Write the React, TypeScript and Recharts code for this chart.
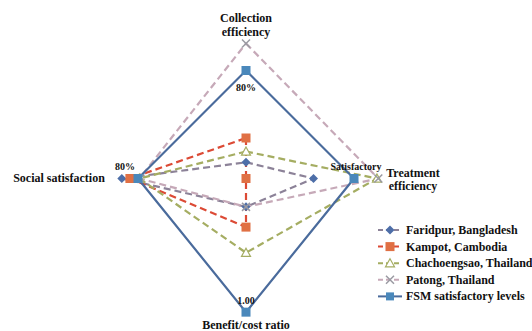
import React from 'react';
import { RadarChart, Radar, PolarAngleAxis, PolarRadiusAxis, Legend } from 'recharts';

const categories = ['Collection efficiency', 'Treatment efficiency', 'Benefit/cost ratio', 'Social satisfaction'];
const faridpur = [12, 50, 21, 92];
const kampot = [30, 0, 36, 86];
const chachoengsao = [20, 97, 55, 79];
const patong = [100, 98, 21, 79];
const fsm = [80, 80, 99, 80];
const fsmNotes = ['80%', 'Satisfactory', '1.00', '80%'];

const seriesNames = [
  'Faridpur, Bangladesh',
  'Kampot, Cambodia',
  'Chachoengsao, Thailand',
  'Patong, Thailand',
  'FSM satisfactory levels',
];

const data = categories.map((c, i) => ({
  axis: c,
  faridpur: faridpur[i],
  kampot: kampot[i],
  chachoengsao: chachoengsao[i],
  patong: patong[i],
  fsm: fsm[i],
}));

const FONT = "'Liberation Serif', 'Times New Roman', 'DejaVu Serif', serif";
const textStyle = { fontFamily: FONT, fontWeight: 700 };

const C = {
  faridLine: '#8c8298',
  faridDot: '#4d6ea8',
  kampLine: '#dc4a35',
  kampDot: '#e07044',
  chachLine: '#a5ad62',
  patLine: '#c6a9b8',
  patDot: '#9a9aa2',
  fsmLine: '#4a6b9c',
  fsmDot: '#4a88bb',
};

function Diamond({ cx, cy, color }: any) {
  const s = 4.5;
  return <path d={`M${cx},${cy - s}L${cx + s},${cy}L${cx},${cy + s}L${cx - s},${cy}Z`} fill={color} />;
}
function Square({ cx, cy, color, s = 4.5 }: any) {
  return <rect x={cx - s} y={cy - s} width={2 * s} height={2 * s} fill={color} />;
}
function Triangle({ cx, cy, color }: any) {
  const s = 4.5;
  return <path d={`M${cx},${cy - s}L${cx + s},${cy + s * 0.8}L${cx - s},${cy + s * 0.8}Z`} fill="#fff" stroke={color} strokeWidth={1.2} />;
}
function Cross({ cx, cy, color }: any) {
  const s = 4;
  return (
    <path d={`M${cx - s},${cy - s}L${cx + s},${cy + s}M${cx - s},${cy + s}L${cx + s},${cy - s}`} stroke={color} strokeWidth={1.5} fill="none" />
  );
}

const noteOffsets = [
  { dx: 0, dy: 20 },
  { dx: 2, dy: -9 },
  { dx: 0, dy: -8 },
  { dx: -13, dy: -9 },
];

const renderFsmDot = (p: any) => {
  const i = p.index;
  const o = noteOffsets[i] || { dx: 0, dy: 0 };
  return (
    <g key={`fsm-${i}`}>
      <Square cx={p.cx} cy={p.cy} color={C.fsmDot} />
      <text x={p.cx + o.dx} y={p.cy + o.dy} textAnchor="middle" style={{ ...textStyle, fontSize: 10 }} fill="#111">
        {fsmNotes[i]}
      </text>
    </g>
  );
};

const AngleTick = (props: any) => {
  const { payload, index } = props;
  const idx = payload && payload.index !== undefined ? payload.index : index;
  const st = { ...textStyle, fontSize: 12 };
  if (idx === 0) {
    return (
      <text style={st} fill="#111" textAnchor="middle">
        <tspan x={246} y={22}>Collection</tspan>
        <tspan x={246} y={36}>efficiency</tspan>
      </text>
    );
  }
  if (idx === 1) {
    return (
      <text style={st} fill="#111" textAnchor="middle">
        <tspan x={413} y={177}>Treatment</tspan>
        <tspan x={413} y={190}>efficiency</tspan>
      </text>
    );
  }
  if (idx === 2) {
    return (
      <text style={st} fill="#111" textAnchor="middle" x={246} y={329}>
        Benefit/cost ratio
      </text>
    );
  }
  return (
    <text style={st} fill="#111" textAnchor="middle" x={59} y={182}>
      Social satisfaction
    </text>
  );
};

const legendIcons = [
  (x: number, y: number) => (
    <g>
      <line x1={x} y1={y} x2={x + 24} y2={y} stroke={C.faridLine} strokeWidth={2} strokeDasharray="5 3" />
      <Diamond cx={x + 12} cy={y} color={C.faridDot} />
    </g>
  ),
  (x: number, y: number) => (
    <g>
      <line x1={x} y1={y} x2={x + 24} y2={y} stroke={C.kampLine} strokeWidth={2} strokeDasharray="5 3" />
      <Square cx={x + 12} cy={y} color={C.kampDot} />
    </g>
  ),
  (x: number, y: number) => (
    <g>
      <line x1={x} y1={y} x2={x + 24} y2={y} stroke={C.chachLine} strokeWidth={2} strokeDasharray="5 3" />
      <Triangle cx={x + 12} cy={y} color={C.chachLine} />
    </g>
  ),
  (x: number, y: number) => (
    <g>
      <line x1={x} y1={y} x2={x + 24} y2={y} stroke={C.patLine} strokeWidth={2} strokeDasharray="5 3" />
      <Cross cx={x + 12} cy={y} color={C.patDot} />
    </g>
  ),
  (x: number, y: number) => (
    <g>
      <line x1={x} y1={y} x2={x + 24} y2={y} stroke={C.fsmLine} strokeWidth={2} />
      <Square cx={x + 12} cy={y} color={C.fsmDot} s={4} />
    </g>
  ),
];

const LegendContent = () => (
  <svg width={160} height={90}>
    {seriesNames.map((n, i) => (
      <g key={n}>
        {legendIcons[i](2, 8 + i * 16.6)}
        <text x={30} y={12 + i * 16.6} style={{ ...textStyle, fontSize: 12 }} fill="#111">
          {n}
        </text>
      </g>
    ))}
  </svg>
);

export default function App() {
  return (
    <div style={{ position: 'absolute', left: 0, top: 0, width: 532, height: 331, background: '#fff' }}>
      <RadarChart width={532} height={331} data={data} cx={246} cy={178.5} outerRadius={135} margin={{ top: 0, right: 0, bottom: 0, left: 0 }}>
        <PolarAngleAxis dataKey="axis" tick={AngleTick} axisLine={false} tickLine={false} />
        <PolarRadiusAxis domain={[0, 100]} tick={false} axisLine={false} tickCount={2} />
        <Radar name={seriesNames[0]} dataKey="faridpur" stroke={C.faridLine} strokeWidth={2.2} strokeDasharray="7 4" fill="none" fillOpacity={0} isAnimationActive={false}
          dot={(p: any) => <Diamond key={`f-${p.index}`} cx={p.cx} cy={p.cy} color={C.faridDot} />} />
        <Radar name={seriesNames[1]} dataKey="kampot" stroke={C.kampLine} strokeWidth={2.2} strokeDasharray="7 4" fill="none" fillOpacity={0} isAnimationActive={false}
          dot={(p: any) => <Square key={`k-${p.index}`} cx={p.cx} cy={p.cy} color={C.kampDot} />} />
        <Radar name={seriesNames[2]} dataKey="chachoengsao" stroke={C.chachLine} strokeWidth={2.2} strokeDasharray="7 4" fill="none" fillOpacity={0} isAnimationActive={false}
          dot={(p: any) => <Triangle key={`c-${p.index}`} cx={p.cx} cy={p.cy} color={C.chachLine} />} />
        <Radar name={seriesNames[3]} dataKey="patong" stroke={C.patLine} strokeWidth={2.2} strokeDasharray="7 4" fill="none" fillOpacity={0} isAnimationActive={false}
          dot={(p: any) => <Cross key={`p-${p.index}`} cx={p.cx} cy={p.cy} color={C.patDot} />} />
        <Radar name={seriesNames[4]} dataKey="fsm" stroke={C.fsmLine} strokeWidth={2.2} fill="none" fillOpacity={0} isAnimationActive={false}
          dot={renderFsmDot} />
        <Legend content={LegendContent} wrapperStyle={{ position: 'absolute', left: 376, top: 222, width: 160 }} />
      </RadarChart>
    </div>
  );
}
